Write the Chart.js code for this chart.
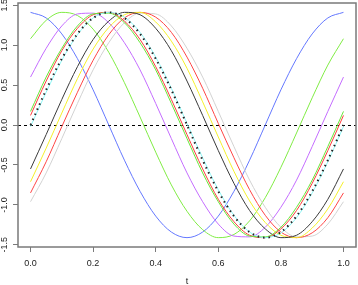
<!DOCTYPE html>
<html>
<head>
<meta charset="utf-8">
<script src="https://cdn.jsdelivr.net/npm/chart.js@4"></script>
<style>
  html, body { margin: 0; padding: 0; background: #fff; }
  canvas { display: block; }
</style>
</head>
<body>
<canvas id="waveChart" width="358" height="285"></canvas>
<script>
// sample points along t
const tValues = [0, 0.05, 0.1, 0.15, 0.2, 0.25, 0.3, 0.35, 0.4, 0.45, 0.5,
  0.55, 0.6, 0.65, 0.7, 0.75, 0.8, 0.85, 0.9, 0.95, 1];

// curves
const blueWave = [1.41, 1.34, 1.14, 0.83, 0.44, 0, -0.44, -0.83, -1.14, -1.34, -1.41,
  -1.34, -1.14, -0.83, -0.44, 0, 0.44, 0.83, 1.14, 1.34, 1.41];
const greenWave = [1.08, 1.31, 1.41, 1.37, 1.2, 0.91, 0.53, 0.1, -0.34, -0.75, -1.08,
  -1.31, -1.41, -1.37, -1.2, -0.91, -0.53, -0.1, 0.34, 0.75, 1.08];
const purpleWave = [0.6, 0.96, 1.24, 1.39, 1.4, 1.28, 1.03, 0.69, 0.27, -0.17, -0.6,
  -0.96, -1.24, -1.39, -1.4, -1.28, -1.03, -0.69, -0.27, 0.17, 0.6];
const green2Wave = [0.17, 0.6, 0.96, 1.24, 1.39, 1.4, 1.28, 1.03, 0.69, 0.27, -0.17,
  -0.6, -0.96, -1.24, -1.39, -1.4, -1.28, -1.03, -0.69, -0.27, 0.17];
const redWave = [0.12, 0.55, 0.93, 1.21, 1.38, 1.41, 1.3, 1.07, 0.73, 0.32, -0.12,
  -0.55, -0.93, -1.21, -1.38, -1.41, -1.3, -1.07, -0.73, -0.32, 0.12];
const dottedWave = [0, 0.44, 0.83, 1.14, 1.34, 1.41, 1.34, 1.14, 0.83, 0.44, 0,
  -0.44, -0.83, -1.14, -1.34, -1.41, -1.34, -1.14, -0.83, -0.44, 0];
const cyanWave = [-0.02, 0.41, 0.81, 1.13, 1.34, 1.41, 1.35, 1.16, 0.85, 0.46, 0.02,
  -0.41, -0.81, -1.13, -1.34, -1.41, -1.35, -1.16, -0.85, -0.46, -0.02];
const blackWave = [-0.55, -0.12, 0.32, 0.73, 1.07, 1.3, 1.41, 1.38, 1.21, 0.93, 0.55,
  0.12, -0.32, -0.73, -1.07, -1.3, -1.41, -1.38, -1.21, -0.93, -0.55];
const yellowWave = [-0.71, -0.29, 0.15, 0.58, 0.95, 1.22, 1.38, 1.41, 1.29, 1.05, 0.71,
  0.29, -0.15, -0.58, -0.95, -1.22, -1.38, -1.41, -1.29, -1.05, -0.71];
const red2Wave = [-0.85, -0.46, -0.02, 0.41, 0.81, 1.13, 1.34, 1.41, 1.35, 1.16, 0.85,
  0.46, 0.02, -0.41, -0.81, -1.13, -1.34, -1.41, -1.35, -1.16, -0.85];
const grayWave = [-0.96, -0.6, -0.17, 0.27, 0.69, 1.03, 1.28, 1.4, 1.39, 1.24, 0.96,
  0.6, 0.17, -0.27, -0.69, -1.03, -1.28, -1.4, -1.39, -1.24, -0.96];

// axes
const xTicks = [0, 0.2, 0.4, 0.6, 0.8, 1];
const yTicks = [-1.5, -1, -0.5, 0, 0.5, 1, 1.5];
const xRange = [-0.04, 1.04];
const yRange = [-1.527, 1.527];
const refLevel = 0;

Chart.defaults.font.family = "'Liberation Sans', Arial, sans-serif";
Chart.defaults.font.size = 9;
Chart.defaults.color = "#222";

function toPoints(values) {
  return values.map((v, i) => ({ x: tValues[i], y: v }));
}

function wave(values, color, extra) {
  return Object.assign({
    data: toPoints(values),
    borderColor: color,
    borderWidth: 1,
    pointRadius: 0,
    fill: false,
    cubicInterpolationMode: "monotone",
  }, extra || {});
}

// box, y labels rotated like R, dashed zero line
const framePlugin = {
  id: "frame",
  beforeDatasetsDraw(chart) {
    const { ctx, chartArea: a, scales } = chart;
    const y0 = Math.round(scales.y.getPixelForValue(refLevel)) + 0.5;
    ctx.save();
    ctx.strokeStyle = "#000";
    ctx.lineWidth = 1;
    ctx.setLineDash([3, 3]);
    ctx.beginPath();
    ctx.moveTo(a.left, y0);
    ctx.lineTo(a.right, y0);
    ctx.stroke();
    ctx.restore();
  },
  afterDraw(chart) {
    const { ctx, chartArea: a, scales } = chart;
    ctx.save();
    ctx.strokeStyle = "#7a7a7a";
    ctx.lineWidth = 1.5;
    ctx.strokeRect(a.left, a.top, a.right - a.left, a.bottom - a.top);

    ctx.fillStyle = "#222";
    ctx.font = "9px 'Liberation Sans', Arial, sans-serif";
    ctx.textAlign = "center";
    ctx.textBaseline = "middle";
    yTicks.forEach((v) => {
      const py = scales.y.getPixelForValue(v);
      ctx.save();
      ctx.translate(5, py);
      ctx.rotate(-Math.PI / 2);
      ctx.fillText(v.toFixed(1), 0, 0);
      ctx.restore();
    });
    ctx.restore();
  },
};

const ctx = document.getElementById("waveChart").getContext("2d");

new Chart(ctx, {
  type: "line",
  data: {
    datasets: [
      wave(dottedWave, "#222", { borderWidth: 2, borderDash: [1.5, 4] }),
      wave(cyanWave, "#8ff7f7"),
      wave(green2Wave, "#66e83a"),
      wave(redWave, "#ff3c3c"),
      wave(blackWave, "#3a3a3a"),
      wave(yellowWave, "#f5f02a"),
      wave(red2Wave, "#ff4545"),
      wave(grayWave, "#d2d2d2"),
      wave(purpleWave, "#c46cff"),
      wave(greenWave, "#80ec44"),
      wave(blueWave, "#6478ff"),
    ],
  },
  options: {
    responsive: false,
    animation: false,
    layout: { padding: { top: 3, right: 2, left: 0, bottom: 0 } },
    plugins: {
      legend: { display: false },
      tooltip: { enabled: false },
    },
    scales: {
      x: {
        type: "linear",
        min: xRange[0],
        max: xRange[1],
        afterBuildTicks: (scale) => {
          scale.ticks = xTicks.map((v) => ({ value: v }));
        },
        afterFit: (scale) => {
          scale.height = 38;
        },
        ticks: {
          maxRotation: 0,
          padding: 6,
          callback: (v) => v.toFixed(1),
        },
        grid: {
          drawOnChartArea: false,
          drawTicks: true,
          tickLength: 5,
          color: "#7a7a7a",
        },
        border: { display: false },
        title: {
          display: true,
          text: "t",
          padding: { top: 0, bottom: -2 },
        },
      },
      y: {
        type: "linear",
        min: yRange[0],
        max: yRange[1],
        afterBuildTicks: (scale) => {
          scale.ticks = yTicks.map((v) => ({ value: v }));
        },
        afterFit: (scale) => {
          scale.width = 18;
        },
        ticks: { display: false },
        grid: {
          drawOnChartArea: false,
          drawTicks: true,
          tickLength: 5,
          color: "#7a7a7a",
        },
        border: { display: false },
      },
    },
  },
  plugins: [framePlugin],
});
</script>
</body>
</html>
